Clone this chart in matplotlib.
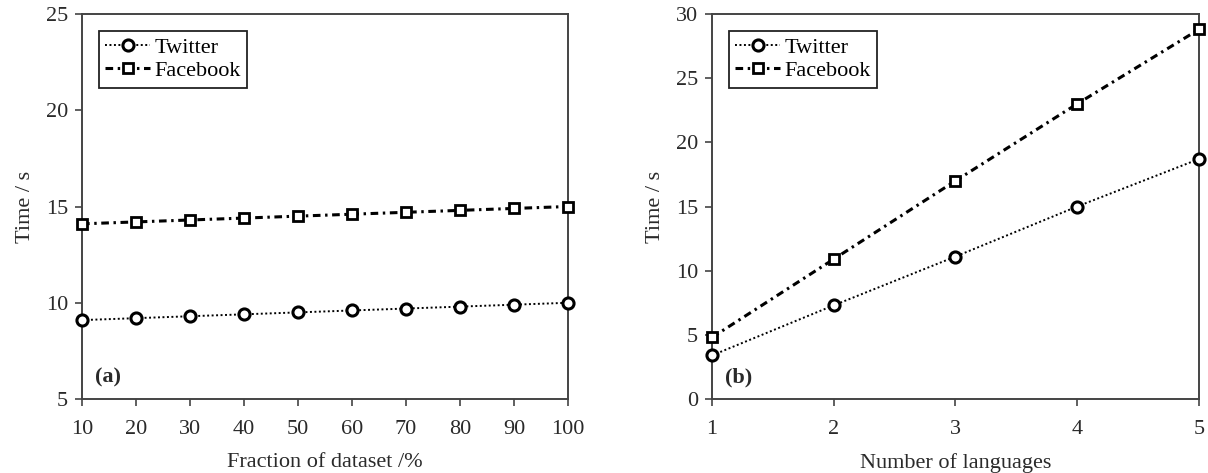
import matplotlib
matplotlib.use("Agg")
import matplotlib.pyplot as plt

plt.rcParams['font.family'] = ['Liberation Serif', 'DejaVu Serif']

# panel (a)
frac = [10, 20, 30, 40, 50, 60, 70, 80, 90, 100]
tw_a = [9.1, 9.2, 9.3, 9.4, 9.5, 9.6, 9.7, 9.8, 9.9, 10.0]
fb_a = [14.1, 14.2, 14.3, 14.4, 14.5, 14.6, 14.7, 14.8, 14.9, 15.0]

# panel (b)
langs = [1, 2, 3, 4, 5]
tw_b = [3.4, 7.3, 11.1, 15.0, 18.7]
fb_b = [4.8, 10.9, 17.0, 23.0, 28.8]

fig = plt.figure(figsize=(12.08, 4.73), dpi=100)
ax1 = fig.add_axes([0.0679, 0.1564, 0.4023, 0.814])
ax2 = fig.add_axes([0.5894, 0.1564, 0.4031, 0.814])

txt = '#2a2a2a'

def draw(ax, x, tw, fb):
    ax.plot(x, tw, color='black', linestyle=(0, (1, 1.3)), linewidth=1.4, marker='o',
            markersize=8, markerfacecolor='white', markeredgewidth=2.2,
            label='Twitter', clip_on=False, zorder=3)
    ax.plot(x, fb, color='black', linestyle=(0, (2.5, 1.5, 0.8, 1.5)), linewidth=2.2, marker='s',
            markersize=7, markerfacecolor='white', markeredgewidth=2,
            label='Facebook', clip_on=False, zorder=3)
    leg = ax.legend(loc='upper left', fontsize=16, fancybox=False,
                    handlelength=2.0, handletextpad=0.2, borderpad=0.3,
                    labelspacing=0.12, borderaxespad=0.75, framealpha=1)
    leg.get_frame().set_edgecolor('#222222')
    leg.get_frame().set_linewidth(1.3)
    ax.set_ylabel('Time / s', fontsize=16, color=txt, labelpad=8)
    ax.tick_params(labelsize=16, direction='out', length=5, width=1.2,
                   colors='#444444', labelcolor=txt, pad=5)
    ax.tick_params(axis='x', pad=10)
    for s in ax.spines.values():
        s.set_linewidth(1.4)
        s.set_color('#444444')

draw(ax1, frac, tw_a, fb_a)
ax1.set_xlim(10, 100)
ax1.set_ylim(5, 25)
ax1.set_xticks(frac)
ax1.set_yticks([5, 10, 15, 20, 25])
ax1.set_xlabel('Fraction of dataset /%', fontsize=16, color=txt, labelpad=10)
ax1.text(0.027, 0.057, '(a)', transform=ax1.transAxes, fontsize=16,
         fontweight='bold', va='center', color=txt)

draw(ax2, langs, tw_b, fb_b)
ax2.set_xlim(1, 5)
ax2.set_ylim(0, 30)
ax2.set_xticks(langs)
ax2.set_yticks([0, 5, 10, 15, 20, 25, 30])
ax2.set_xlabel('Number of languages', fontsize=16, color=txt, labelpad=10)
ax2.text(0.027, 0.057, '(b)', transform=ax2.transAxes, fontsize=16,
         fontweight='bold', va='center', color=txt)

fig.savefig('out.png', dpi=100)
